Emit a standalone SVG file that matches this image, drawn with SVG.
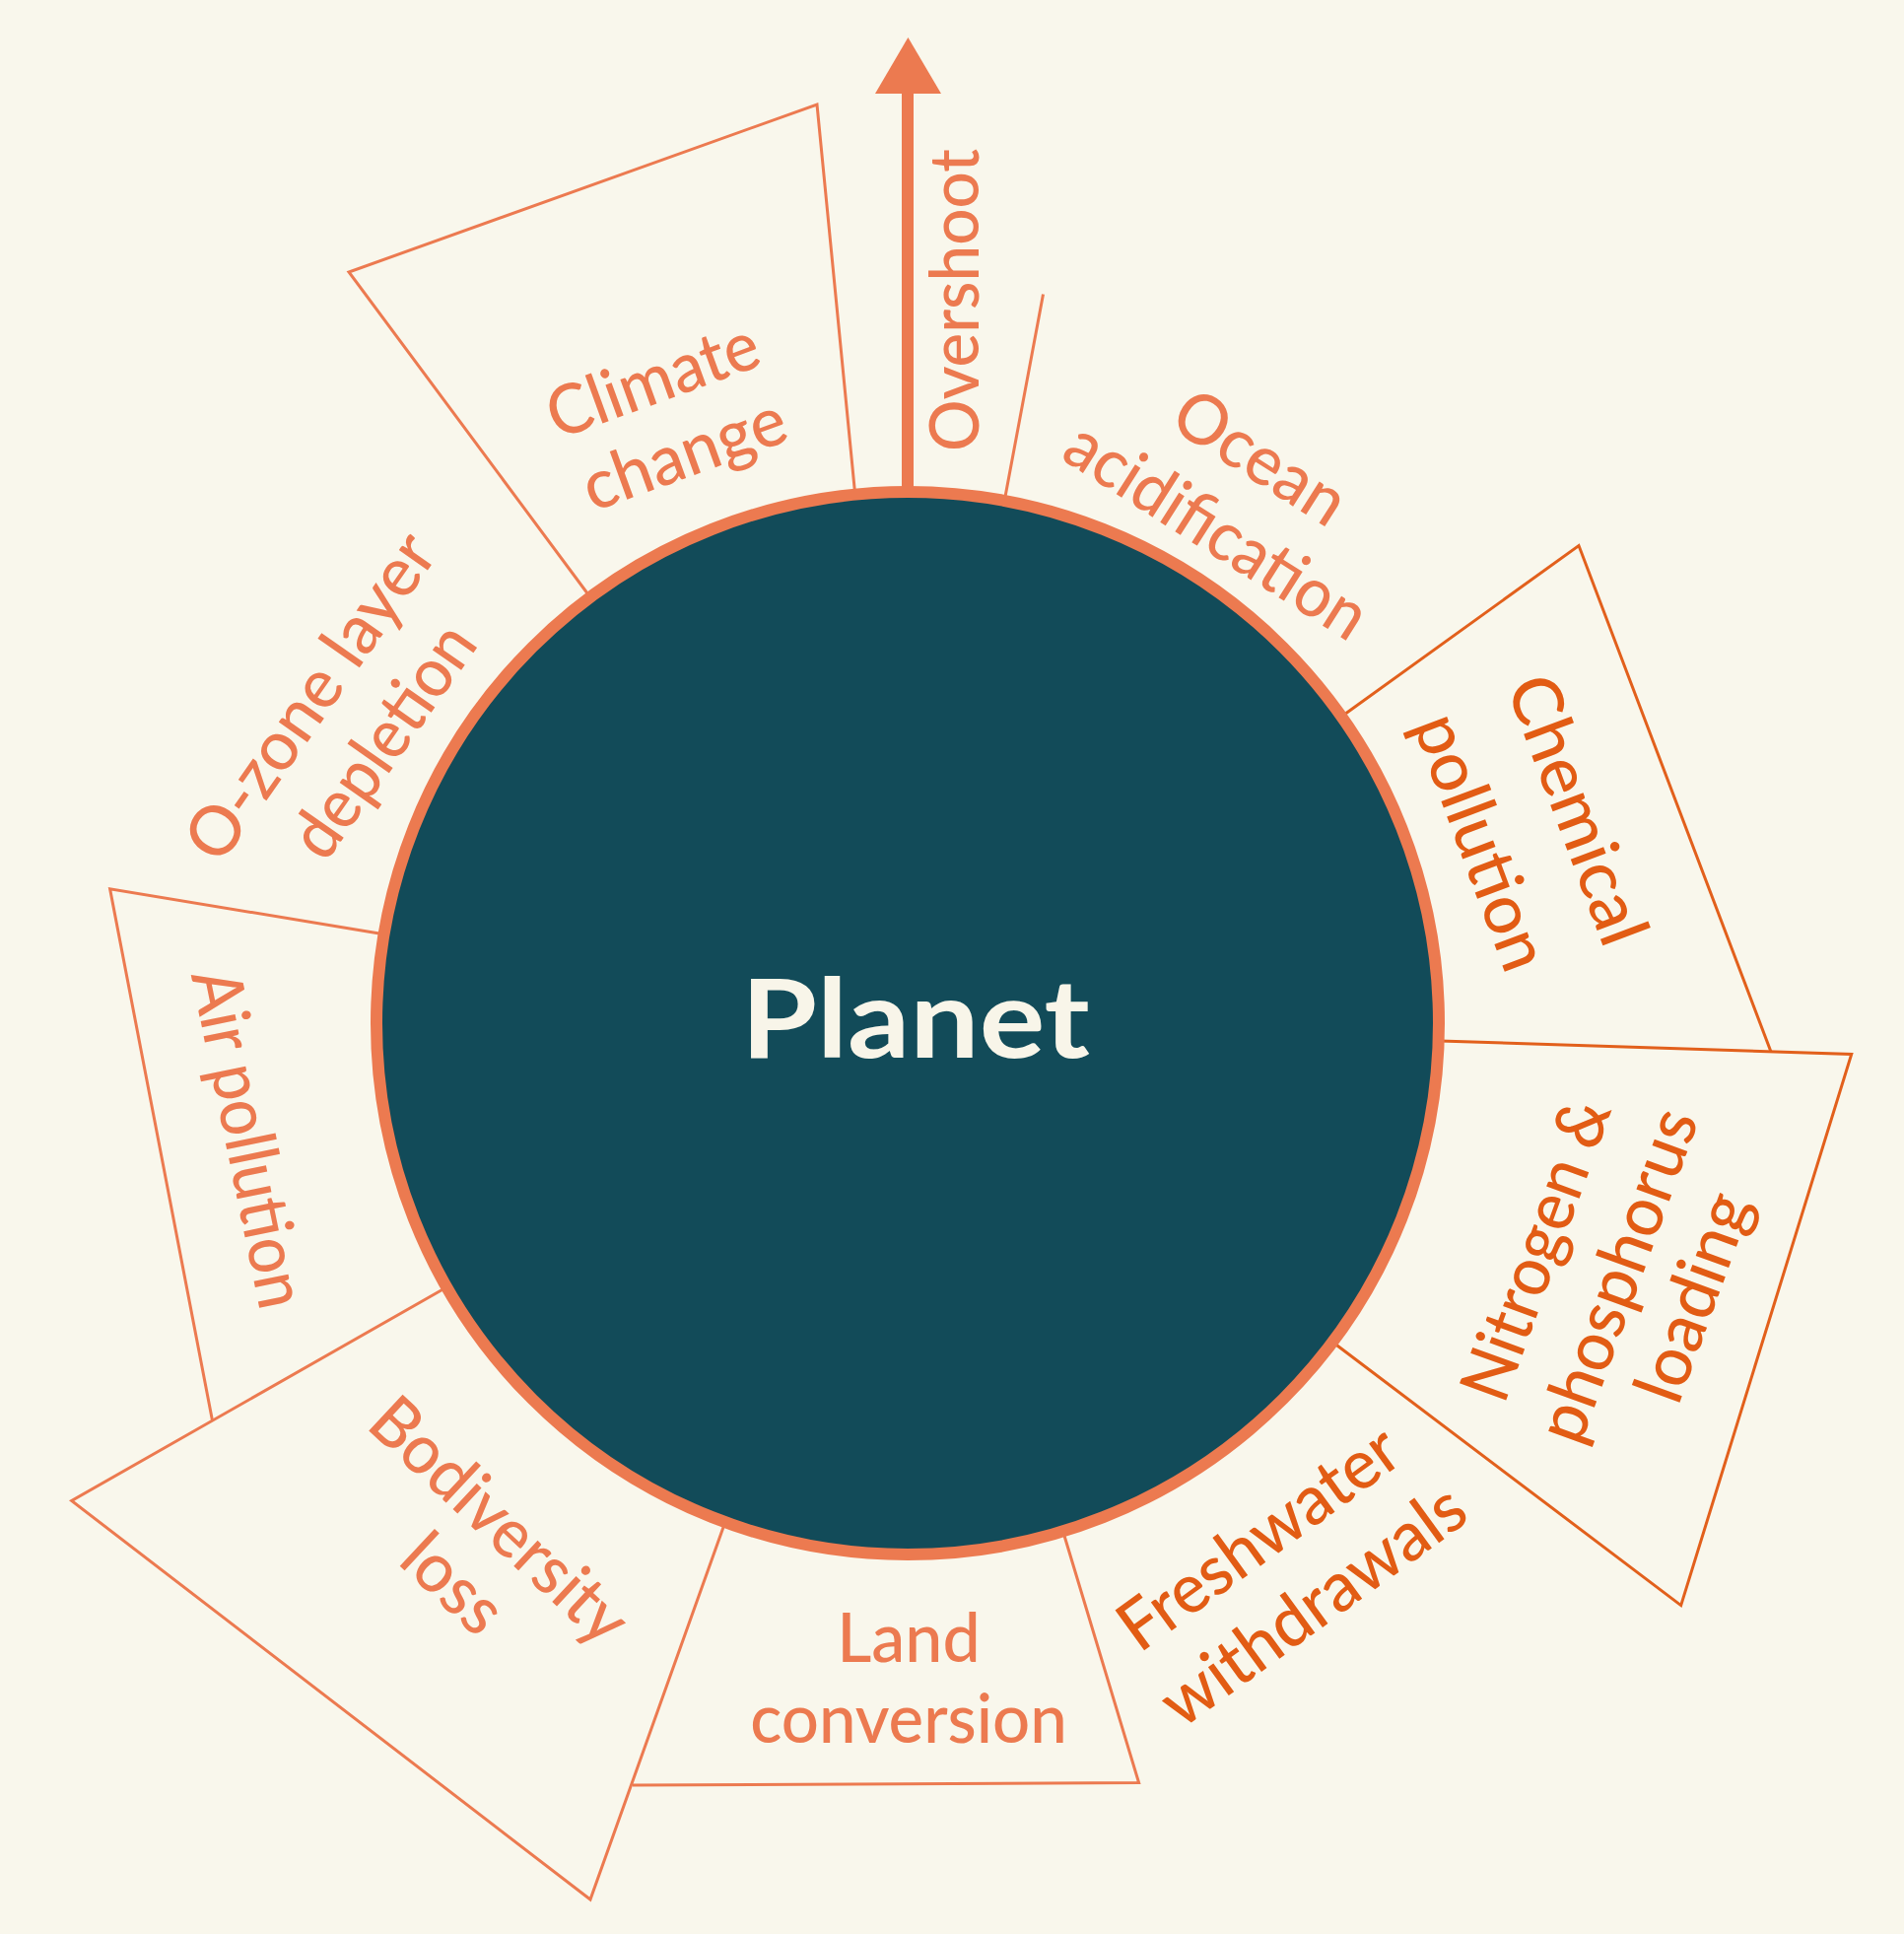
<svg xmlns="http://www.w3.org/2000/svg" width="1932" height="1962" viewBox="0 0 1932 1962">
<style>
.bg{fill:#F9F7EC}
.edge{fill:none;stroke:#EC7A50;stroke-width:3;stroke-linejoin:miter}
.edge.dk{stroke:#E2601C}
.fillbg{fill:#F9F7EC}
.lbl{font-family:Lato,"Noto Sans","Liberation Sans",sans-serif;font-size:70px;font-weight:500;fill:#EC7A50;text-anchor:middle}
.lbl.dk{fill:#E25C14}
.planet{font-family:Lato,"Noto Sans","Liberation Sans",sans-serif;font-size:112px;font-weight:700;fill:#F8F5E9;text-anchor:middle}
</style>
<rect class="bg" x="0" y="0" width="1932" height="1962"/>

<g id="climate-change">
  <polyline class="edge" points="605,614 354,276 829,106 869,515"/>
  <text class="lbl" transform="translate(663,387.2) rotate(-20)" y="22" textLength="224" lengthAdjust="spacingAndGlyphs">Climate</text>
  <text class="lbl" transform="translate(694.8,462) rotate(-20)" y="22" textLength="215" lengthAdjust="spacingAndGlyphs">change</text>
</g>

<g id="overshoot">
  <text class="lbl" transform="translate(993,304.5) rotate(-90)" y="0" textLength="307" lengthAdjust="spacingAndGlyphs">Overshoot</text>
</g>

<g id="ocean-acidification">
  <polyline class="edge" points="1058.5,298.5 1017,520"/>
  <text class="lbl" transform="translate(1277.8,465.7) rotate(32.5)" y="22" textLength="194" lengthAdjust="spacingAndGlyphs">Ocean</text>
  <text class="lbl" transform="translate(1233.8,539.6) rotate(32.5)" y="22" textLength="349" lengthAdjust="spacingAndGlyphs">acidification</text>
</g>

<g id="chemical-pollution">
  <polyline class="edge dk" points="1350,735 1602,553.5 1797,1067"/>
  <text class="lbl dk" transform="translate(1598.6,822.2) rotate(69.5)" y="22" textLength="286" lengthAdjust="spacingAndGlyphs">Chemical</text>
  <text class="lbl dk" transform="translate(1501.4,854.7) rotate(69.5)" y="22" textLength="272" lengthAdjust="spacingAndGlyphs">pollution</text>
</g>

<g id="nitrogen-phosphorus-loading">
  <polygon class="fillbg" points="1440,1055 1878.7,1069.5 1705.7,1628.6 1340,1352"/>
  <polyline class="edge dk" points="1445,1055.5 1878.7,1069.5 1705.7,1628.6 1343,1354.5"/>
  <text class="lbl dk" transform="translate(1560.2,1268.1) rotate(-70)" y="22" textLength="320" lengthAdjust="spacingAndGlyphs">Nitrogen &amp;</text>
  <text class="lbl dk" transform="translate(1642.9,1294.5) rotate(-70)" y="22" textLength="354" lengthAdjust="spacingAndGlyphs">phosphorus</text>
  <text class="lbl dk" transform="translate(1719.6,1316.3) rotate(-70)" y="22" textLength="220" lengthAdjust="spacingAndGlyphs">loading</text>
</g>

<g id="freshwater-withdrawals">
  <text class="lbl dk" transform="translate(1278.4,1561.8) rotate(-36)" y="22" textLength="334" lengthAdjust="spacingAndGlyphs">Freshwater</text>
  <text class="lbl dk" transform="translate(1333.4,1630) rotate(-36)" y="22" textLength="364" lengthAdjust="spacingAndGlyphs">withdrawals</text>
</g>

<g id="air-pollution">
  <polyline class="edge" points="400,949.5 111.6,901.8 215.5,1441.2"/>
  <text class="lbl" transform="translate(250.5,1155.4) rotate(78.4)" y="22" textLength="349" lengthAdjust="spacingAndGlyphs">Air pollution</text>
</g>

<g id="o-zone-layer-depletion">
  <text class="lbl" transform="translate(316.5,707.8) rotate(-55)" y="22" textLength="388" lengthAdjust="spacingAndGlyphs">O-zone layer</text>
  <text class="lbl" transform="translate(390.3,752.3) rotate(-55)" y="22" textLength="272" lengthAdjust="spacingAndGlyphs">depletion</text>
</g>

<g id="bodiversity-loss">
  <polygon class="fillbg" points="462,1301 72.7,1522.5 599,1927 738,1537"/>
  <polyline class="edge" points="460,1302 72.7,1522.5 599,1927 737.5,1539.5"/>
  <text class="lbl" transform="translate(505.6,1544) rotate(43)" y="22" textLength="330" lengthAdjust="spacingAndGlyphs">Bodiversity</text>
  <text class="lbl" transform="translate(458.7,1608) rotate(43)" y="22" textLength="113" lengthAdjust="spacingAndGlyphs">loss</text>
</g>

<g id="land-conversion">
  <polyline class="edge" points="642,1811 1155.6,1808.6 1077,1548"/>
  <text class="lbl" x="922" y="1686" textLength="145.5" lengthAdjust="spacingAndGlyphs">Land</text>
  <text class="lbl" x="922" y="1767.7" textLength="321.5" lengthAdjust="spacingAndGlyphs">conversion</text>
</g>

<g id="connectors">
  <line x1="921" y1="92" x2="921" y2="520" stroke="#EC7A50" stroke-width="12"/>
  <polygon points="921.4,38 888,95 955,95" fill="#EC7A50"/>
</g>

<g id="planet">
  <circle cx="921" cy="1038" r="539" fill="#124B59" stroke="#EC7A50" stroke-width="12"/>
  <text class="planet" x="929" y="1073" textLength="354" lengthAdjust="spacingAndGlyphs">Planet</text>
</g>
</svg>
